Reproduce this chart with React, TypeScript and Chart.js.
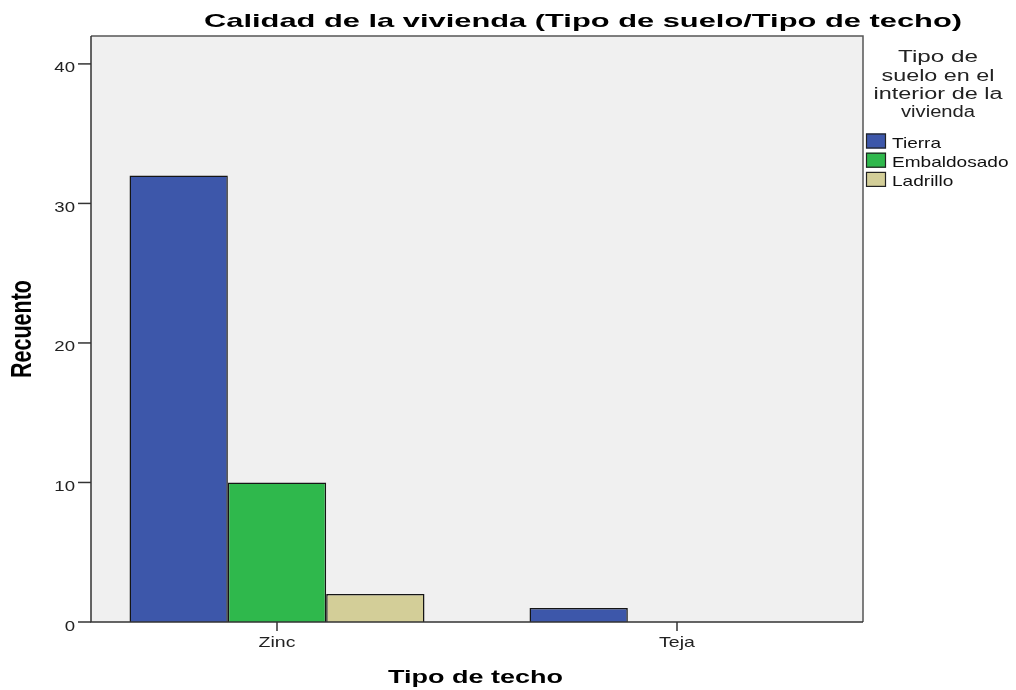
import { useEffect, useRef } from 'react';
import { Chart, registerables } from 'chart.js';

Chart.register(...registerables);

const categories = ['Zinc', 'Teja'];
const seriesNames = ['Tierra', 'Embaldosado', 'Ladrillo'];
const tierra = [32, 1];
const embaldosado = [10, 0];
const ladrillo = [2, 0];
const yTicks = [0, 10, 20, 30, 40];
const yMax = 42;
const chartTitle = 'Calidad de la vivienda (Tipo de suelo/Tipo de techo)';
const xTitle = 'Tipo de techo';
const yTitle = 'Recuento';
const legendTitle = ['Tipo de', 'suelo en el', 'interior de la', 'vivienda'];
const legendTitleWidths = [80, 113, 129, 74];
const seriesColors = ['#3D57AA', '#2FB84C', '#D3CE98'];

const FONT = '"Liberation Sans", Arial, Helvetica, sans-serif';

function txt(
  ctx: CanvasRenderingContext2D,
  text: string,
  x: number,
  y: number,
  font: string,
  align: CanvasTextAlign,
  opts: { sx?: number; width?: number; color?: string }
) {
  ctx.save();
  ctx.font = font;
  const w = ctx.measureText(text).width;
  const sx = opts.width ? opts.width / w : opts.sx ?? 1;
  ctx.translate(x, y);
  ctx.scale(sx, 1);
  ctx.textAlign = align;
  ctx.textBaseline = 'alphabetic';
  ctx.fillStyle = opts.color ?? '#000';
  ctx.fillText(text, 0, 0);
  ctx.restore();
}

const decor = {
  id: 'decor',
  beforeDatasetsDraw(chart: any) {
    const { ctx, chartArea: a } = chart;
    ctx.save();
    ctx.fillStyle = '#F0F0F0';
    ctx.fillRect(a.left, a.top, a.right - a.left, a.bottom - a.top);
    ctx.restore();
  },
  afterDatasetsDraw(chart: any) {
    const { ctx, chartArea: a } = chart;
    const xs = chart.scales.x;
    const ys = chart.scales.y;
    ctx.save();
    // frame top / right
    ctx.strokeStyle = '#555';
    ctx.lineWidth = 1.5;
    ctx.beginPath();
    ctx.moveTo(a.left, a.top);
    ctx.lineTo(a.right, a.top);
    ctx.lineTo(a.right, a.bottom);
    ctx.stroke();
    // axes
    ctx.strokeStyle = '#333';
    ctx.lineWidth = 1.5;
    ctx.beginPath();
    ctx.moveTo(a.left, a.top);
    ctx.lineTo(a.left, a.bottom);
    ctx.lineTo(a.right, a.bottom);
    ctx.stroke();
    // y ticks
    yTicks.forEach((v) => {
      const py = ys.getPixelForValue(v);
      ctx.beginPath();
      ctx.moveTo(a.left - 13, py);
      ctx.lineTo(a.left, py);
      ctx.stroke();
      txt(ctx, String(v), a.left - 16, py + 8.5, `14px ${FONT}`, 'right', { sx: 1.33, color: '#222' });
    });
    // x ticks
    categories.forEach((c, i) => {
      const px = xs.getPixelForValue(i);
      ctx.beginPath();
      ctx.moveTo(px, a.bottom);
      ctx.lineTo(px, a.bottom + 9);
      ctx.stroke();
      txt(ctx, c, px, a.bottom + 25, `15px ${FONT}`, 'center', { sx: 1.3, color: '#222' });
    });
    // title
    txt(ctx, chartTitle, 583, 27, `bold 19px ${FONT}`, 'center', { width: 758 });
    // x title
    txt(ctx, xTitle, (a.left + a.right) / 2 - 1.5, 683, `bold 19px ${FONT}`, 'center', { width: 175 });
    // y title (rotated)
    ctx.save();
    ctx.font = `bold 20px ${FONT}`;
    const yw = ctx.measureText(yTitle).width;
    ctx.translate(31, (a.top + a.bottom) / 2);
    ctx.rotate(-Math.PI / 2);
    ctx.scale(98 / yw, 1.45);
    ctx.textAlign = 'center';
    ctx.textBaseline = 'alphabetic';
    ctx.fillStyle = '#000';
    ctx.fillText(yTitle, 0, 0);
    ctx.restore();
    // legend title
    legendTitle.forEach((line, i) => {
      txt(ctx, line, 938, 62.3 + i * 18.2, `16px ${FONT}`, 'center', { width: legendTitleWidths[i], color: '#222' });
    });
    // legend items
    chart.data.datasets.forEach((ds: any, i: number) => {
      const top = 133.5 + i * 19.2;
      ctx.fillStyle = ds.backgroundColor;
      ctx.fillRect(866, top, 20, 15);
      ctx.strokeStyle = '#222';
      ctx.lineWidth = 1.2;
      ctx.strokeRect(866.5, top + 0.5, 19, 14);
      txt(ctx, ds.label, 892, top + 14.5, `15px ${FONT}`, 'left', { sx: 1.27, color: '#111' });
    });
    ctx.restore();
  },
};

export default function App() {
  const ref = useRef<HTMLCanvasElement>(null);
  useEffect(() => {
    const canvas = ref.current!;
    const mk = (vals: number[]) => vals.map((v, i) => ({ x: i, y: v }));
    const chart = new Chart(canvas, {
      type: 'bar',
      data: {
        datasets: [tierra, embaldosado, ladrillo].map((vals, k) => ({
          label: seriesNames[k],
          data: mk(vals),
          backgroundColor: seriesColors[k],
          borderColor: '#151515',
          borderWidth: 1.5,
          borderSkipped: 'start',
          categoryPercentage: 0.7375,
          barPercentage: 1,
        })),
      } as any,
      options: {
        responsive: false,
        animation: false,
        devicePixelRatio: 1,
        layout: { padding: { top: 36, right: 153, left: 0, bottom: 0 } },
        plugins: {
          legend: { display: false },
          title: { display: false },
          tooltip: { enabled: false },
        },
        scales: {
          x: {
            type: 'linear',
            min: -0.465,
            max: 1.465,
            offset: false,
            grid: { display: false },
            border: { display: false },
            ticks: { display: false },
            afterBuildTicks: (s: any) => {
              s.ticks = categories.map((_, i) => ({ value: i }));
            },
            afterFit: (s: any) => {
              s.height = 68;
            },
          },
          y: {
            min: 0,
            max: yMax,
            grid: { display: false },
            border: { display: false },
            ticks: { display: false, stepSize: 10 },
            afterBuildTicks: (s: any) => {
              s.ticks = yTicks.map((v) => ({ value: v }));
            },
            afterFit: (s: any) => {
              s.width = 91;
            },
          },
        },
      } as any,
      plugins: [decor],
    });
    return () => chart.destroy();
  }, []);
  return (
    <div style={{ position: 'fixed', left: 0, top: 0, width: 1016, height: 690, background: '#fff' }}>
      <canvas ref={ref} width={1016} height={690} style={{ display: 'block' }} />
    </div>
  );
}
